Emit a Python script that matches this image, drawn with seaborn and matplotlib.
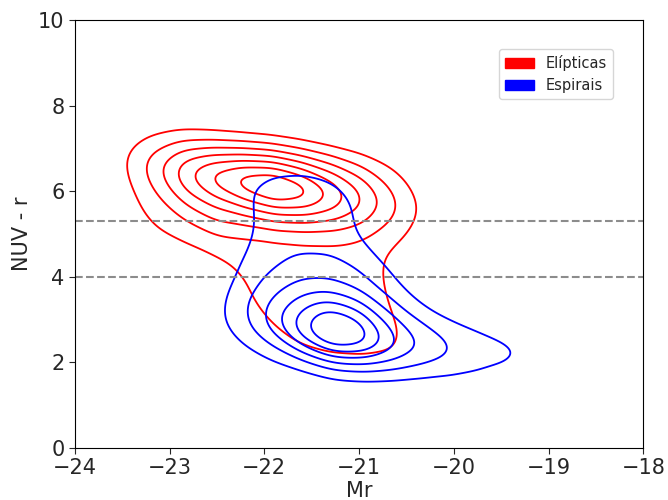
import numpy as np
import pandas as pd
import matplotlib
matplotlib.use("Agg")
import matplotlib.pyplot as plt
from matplotlib.patches import Patch
import seaborn as sns
from seaborn._statistics import KDE

# Binned density (relative weight of each Mr / NUV-r cell,
# in units of "number of enclosing contours")
eliptica_mr = [-23.4, -23.1, -22.8, -22.5, -22.2, -21.9, -21.6, -21.3, -21.0, -20.7, -20.4]
eliptica_nuvr = [7.5, 7.2, 6.9, 6.6, 6.3, 6.0, 5.7, 5.4, 5.1, 4.8, 4.5, 4.2, 3.9, 3.6, 3.3, 3.0, 2.7, 2.4, 2.1]
eliptica_peso = [
    [0.3, 0.5, 0.6, 0.35, 0.05, 0.0, 0.0, 0.0, 0.0, 0.0, 0.0],
    [0.6, 1.2, 1.7, 1.7, 1.5, 1.1, 0.6, 0.15, 0.0, 0.0, 0.0],
    [1.0, 2.1, 3.3, 3.5, 3.4, 3.2, 2.4, 1.6, 0.9, 0.35, 0.0],
    [1.3, 2.9, 4.5, 5.2, 5.5, 5.4, 4.3, 3.1, 2.0, 1.0, 0.3],
    [1.1, 2.7, 5.0, 6.8, 7.8, 7.8, 6.3, 4.6, 3.1, 1.6, 0.6],
    [0.85, 2.2, 4.0, 5.5, 7.0, 8.5, 8.0, 6.1, 4.1, 2.2, 0.8],
    [0.8, 1.6, 3.1, 4.0, 5.1, 6.3, 6.2, 5.2, 4.1, 2.6, 1.1],
    [0.6, 1.4, 2.1, 3.2, 3.6, 4.3, 4.4, 4.1, 3.3, 2.1, 0.9],
    [0.3, 1.1, 1.5, 2.4, 2.3, 2.8, 2.9, 2.8, 2.5, 1.6, 0.7],
    [0.0, 0.6, 1.1, 1.4, 1.5, 1.5, 1.7, 1.8, 1.7, 1.1, 0.5],
    [0.0, 0.0, 0.5, 1.1, 1.4, 1.5, 1.5, 1.5, 1.5, 0.9, 0.3],
    [0.0, 0.0, 0.0, 0.5, 1.2, 1.5, 1.5, 1.5, 1.5, 0.9, 0.3],
    [0.0, 0.0, 0.0, 0.2, 1.0, 1.5, 1.5, 1.5, 1.5, 0.9, 0.3],
    [0.0, 0.0, 0.0, 0.0, 0.9, 1.5, 1.5, 1.5, 1.5, 1.0, 0.3],
    [0.0, 0.0, 0.0, 0.0, 0.7, 1.5, 1.5, 1.5, 1.5, 1.1, 0.3],
    [0.0, 0.0, 0.0, 0.0, 0.4, 1.1, 1.5, 1.5, 1.5, 1.25, 0.4],
    [0.0, 0.0, 0.0, 0.0, 0.1, 0.9, 1.5, 1.5, 1.5, 1.3, 0.6],
    [0.0, 0.0, 0.0, 0.0, 0.0, 0.4, 1.1, 1.5, 1.5, 1.3, 0.6],
    [0.0, 0.0, 0.0, 0.0, 0.0, 0.0, 0.4, 0.8, 1.0, 0.9, 0.4],
]

espiral_mr = [-22.5, -22.2, -21.9, -21.6, -21.3, -21.0, -20.7, -20.4, -20.1, -19.8, -19.5, -19.2]
espiral_nuvr = [6.6, 6.3, 6.0, 5.7, 5.4, 5.1, 4.8, 4.5, 4.2, 3.9, 3.6, 3.3, 3.0, 2.7, 2.4, 2.1, 1.8, 1.5]
espiral_peso = [
    [0.0, 0.0, 0.6, 0.7, 0.4, 0.0, 0.0, 0.0, 0.0, 0.0, 0.0, 0.0],
    [0.0, 0.9, 1.3, 1.35, 1.1, 0.3, 0.0, 0.0, 0.0, 0.0, 0.0, 0.0],
    [0.2, 0.9, 1.4, 1.4, 1.3, 0.8, 0.1, 0.0, 0.0, 0.0, 0.0, 0.0],
    [0.2, 0.9, 1.4, 1.4, 1.4, 0.9, 0.2, 0.0, 0.0, 0.0, 0.0, 0.0],
    [0.1, 0.8, 1.4, 1.4, 1.4, 0.94, 0.2, 0.0, 0.0, 0.0, 0.0, 0.0],
    [0.1, 0.8, 1.4, 1.4, 1.4, 0.95, 0.2, 0.0, 0.0, 0.0, 0.0, 0.0],
    [0.1, 0.9, 1.5, 1.5, 1.5, 1.0, 0.3, 0.0, 0.0, 0.0, 0.0, 0.0],
    [0.2, 1.0, 1.6, 2.0, 2.0, 1.6, 0.6, 0.0, 0.0, 0.0, 0.0, 0.0],
    [0.3, 1.2, 1.8, 2.2, 2.2, 1.8, 1.1, 0.3, 0.0, 0.0, 0.0, 0.0],
    [0.4, 1.3, 2.2, 2.8, 2.8, 2.2, 1.1, 0.4, 0.0, 0.0, 0.0, 0.0],
    [0.6, 1.6, 2.6, 3.4, 3.7, 3.0, 1.8, 0.8, 0.1, 0.0, 0.0, 0.0],
    [0.7, 1.8, 3.1, 4.3, 5.2, 4.3, 2.3, 1.0, 0.4, 0.1, 0.0, 0.0],
    [0.8, 1.8, 3.4, 5.0, 6.8, 5.6, 3.4, 2.0, 1.0, 0.5, 0.1, 0.0],
    [0.6, 1.6, 3.1, 5.6, 7.8, 6.8, 4.0, 2.5, 1.8, 1.2, 0.6, 0.2],
    [0.2, 1.0, 1.7, 4.0, 6.5, 6.2, 4.5, 3.2, 2.2, 1.6, 1.4, 1.0],
    [0.0, 0.6, 1.2, 1.6, 2.8, 3.2, 2.8, 2.2, 1.9, 1.5, 1.4, 1.1],
    [0.0, 0.0, 0.5, 1.0, 1.6, 1.7, 1.6, 1.5, 1.4, 1.2, 0.8, 0.3],
    [0.0, 0.0, 0.0, 0.0, 0.4, 0.5, 0.5, 0.4, 0.3, 0.2, 0.1, 0.0],
]

linhas_corte = [5.3, 4.0]
rotulos = ["Elípticas", "Espirais"]
cores = ["red", "blue"]
n_contornos = [7, 6]
folga_pico = [0.7, 1.0]
larguras_banda = [0.25, 0.28]

GRID = 250
AREA_CELULA = 0.3 * 0.3


def tabela(mr, nuvr, peso):
    linhas = []
    for j, y in enumerate(nuvr):
        for i, x in enumerate(mr):
            if peso[j][i] > 0:
                linhas.append((x, y, peso[j][i]))
    return pd.DataFrame(linhas, columns=["Mr", "NUVr", "w"])


def niveis(df, n, folga, bw):
    """Iso-proportions for n evenly spaced density levels, the lowest one at
    one contour-count unit."""
    est = KDE(bw_method=bw, gridsize=GRID, cut=3)
    dens, _ = est(df["Mr"].to_numpy(), df["NUVr"].to_numpy(), weights=df["w"].to_numpy())
    d = dens.ravel()
    base = 1.0 / (AREA_CELULA * df["w"].sum())
    passo = (d.max() - base) / (n - 1 + folga)
    props = []
    for k in range(n):
        alvo = base + k * passo
        props.append(d[d < alvo].sum() / d.sum())
    return props


dfs = [tabela(eliptica_mr, eliptica_nuvr, eliptica_peso),
       tabela(espiral_mr, espiral_nuvr, espiral_peso)]

sns.set_style("white")
fig = plt.figure(figsize=(6.68, 5.0), dpi=100)
ax = fig.add_axes([0.112, 0.104, 0.851, 0.856])

for df, cor, n, folga, bw in zip(dfs, cores, n_contornos, folga_pico, larguras_banda):
    sns.kdeplot(data=df, x="Mr", y="NUVr", weights="w", bw_method=bw,
                levels=niveis(df, n, folga, bw),
                color=cor, linewidths=1.3, ax=ax, gridsize=GRID)

for yv in linhas_corte:
    ax.axhline(yv, color="#8c8c8c", linestyle="--", linewidth=1.5)

ax.set_xlim(-24, -18)
ax.set_ylim(0, 10)
ax.set_xlabel("Mr", fontsize=15, labelpad=2)
ax.set_ylabel("NUV - r", fontsize=15)
ax.tick_params(labelsize=15, length=4, left=True, bottom=True)
for s in ax.spines.values():
    s.set_color("black")

handles = [Patch(color=c, label=l) for c, l in zip(cores, rotulos)]
ax.legend(handles=handles, loc="upper right", bbox_to_anchor=(0.947, 0.932),
          borderaxespad=0, fontsize=10.5)

fig.savefig("out.png", dpi=100)
